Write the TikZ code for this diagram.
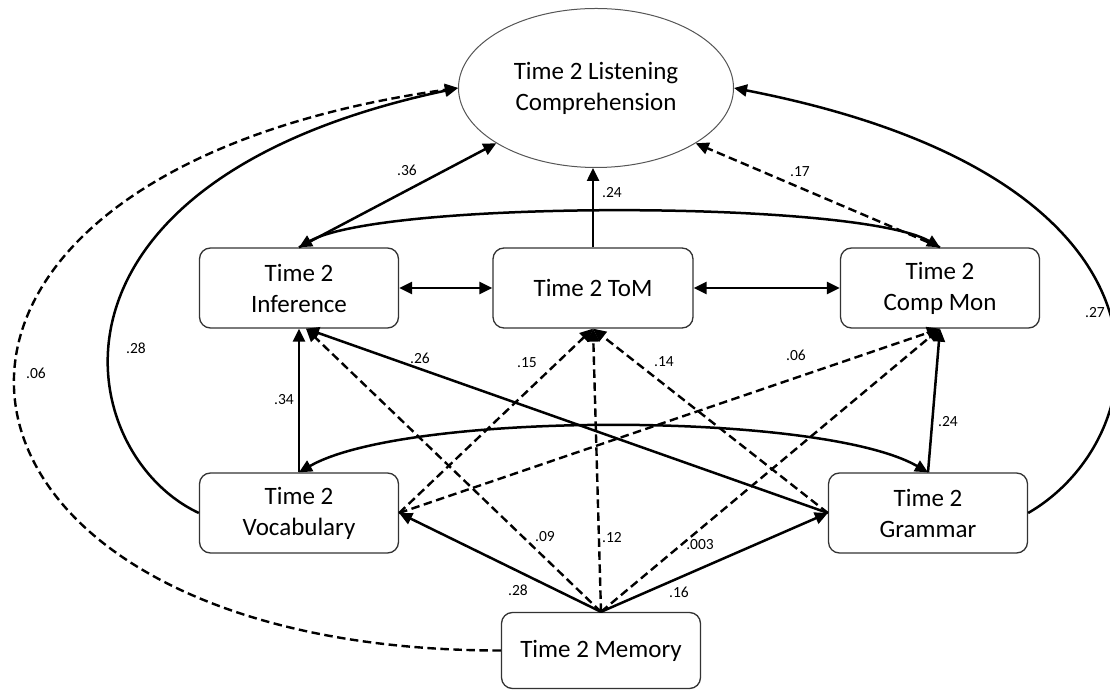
\documentclass[tikz,border=0pt]{standalone}
\usepackage{fontspec}
\setmainfont{Carlito}
\usetikzlibrary{arrows.meta,shapes.geometric}
\definecolor{edge}{HTML}{333333}
\definecolor{rim}{HTML}{555555}

\begin{document}
\begin{tikzpicture}[x=1pt,y=1pt,
  >={Triangle[length=13pt,width=12pt]},
  var/.style={draw=edge,line width=1.3pt,rounded corners=11pt,minimum width=199pt,minimum height=80pt,inner sep=0pt,align=center,font=\fontsize{25}{31}\selectfont},
  sig/.style={line width=2.5pt},
  nsig/.style={line width=2.4pt,dash pattern=on 8.5pt off 4.5pt},
  wt/.style={font=\fontsize{15.5}{18}\selectfont,inner sep=0pt}]
  \useasboundingbox (0,0) rectangle (1110,690);

  % Outcome
  \node[ellipse,draw=rim,line width=1pt,minimum width=275pt,minimum height=159pt,inner sep=0pt,align=center,font=\fontsize{25}{31}\selectfont] (lc) at (596,602) {Time 2 Listening\\Comprehension};

  % Time 2 measures
  \node[var] (inf) at (299,402) {Time 2\\Inference};
  \node[var,minimum width=200pt] (tom) at (593,402) {Time 2 ToM};
  \node[var] (cmon) at (940,402) {Time 2\\Comp Mon};
  \node[var] (voc) at (299,177) {Time 2\\Vocabulary};
  \node[var] (gram) at (928,177) {Time 2\\Grammar};
  \node[var,minimum height=76pt] (mem) at (601,39.5) {Time 2 Memory};

  % Paths into comprehension
  \draw[sig,->] (inf.north) -- (lc.209);
  \draw[sig,->] (tom.north) -- (tom.north |- lc.south);
  \draw[nsig,->] (cmon.north) -- (lc.331);
  \draw[sig,->] (voc.west) .. controls +(155:140) and +(192:450) .. (lc.west);
  \draw[nsig,->] (mem.west) .. controls +(180:600) and +(188:640) .. (lc.west);
  \draw[sig,->] (gram.east) .. controls +(30:150) and +(-11:480) .. (lc.east);

  % Covariances
  \draw[sig,<->] (inf.north) to[out=30,in=150,looseness=0.38] (cmon.north);
  \draw[sig,<->] (inf.east) -- (tom.west);
  \draw[sig,<->] (tom.east) -- (cmon.west);
  \draw[sig,<->] (voc.north) to[out=30,in=150,looseness=0.5] (gram.north);

  % Language to higher order skills
  \draw[sig,->] (voc.north) -- (inf.south);
  \draw[sig,->] (gram.north) -- (cmon.south);
  \draw[sig,->] (gram.west) -- ([xshift=7pt]inf.south);
  \draw[nsig,->] (voc.east) -- (tom.south);
  \draw[nsig,->] (voc.east) -- (cmon.south);
  \draw[nsig,->] (gram.west) -- (tom.south);

  % Memory
  \draw[sig,->] (mem.north) -- (voc.east);
  \draw[sig,->] (mem.north) -- (gram.west);
  \foreach \t in {tom.south, cmon.south}
    \draw[nsig,->] (mem.north) -- (\t);
  \draw[nsig,->] (mem.north) -- ([xshift=7pt]inf.south);

  % Weights
  \foreach \n/\x/\y/\w in {infl/407/520/.36, toml/612/497/.24, cmonl/800/518/.17,
      vocl/136/342/.28, meml/36/317/.06, graml/1095/377/.27, vocinf/284/290/.34,
      graminf/420/332/.26, voctom/527/327/.15, gramtom/664/328/.14, voccmon/796/335/.06,
      gramcmon/948/268/.24, meminf/545/153/.09, memtom/612/152/.12, memcmon/700/145/.003,
      memvoc/518/100/.28, memgram/679/98/.16}
    \node[wt] (w\n) at (\x,\y) {\w};
\end{tikzpicture}
\end{document}
